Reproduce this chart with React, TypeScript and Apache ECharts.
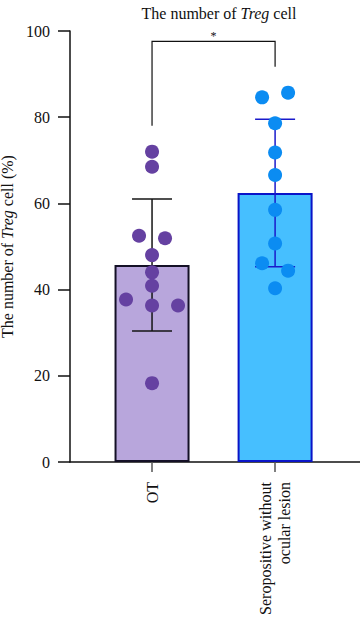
import React, { useEffect, useRef } from "react";
import * as echarts from "echarts";

// Groups shown along the x axis
const categories = ["OT", "Seropositive without\nocular lesion"];
// Group means and standard deviations (%)
const means = [45.7, 62.4];
const sds = [15.3, 17.1];
// Individual measurements per group (%)
const otValues = [72.0, 68.5, 52.5, 51.9, 48.0, 44.0, 40.9, 37.7, 36.3, 36.3, 18.3];
const seroValues = [84.6, 85.7, 78.6, 71.8, 66.6, 58.5, 50.7, 46.1, 44.4, 40.3];
// Beeswarm column of each dot (in dot widths, left negative)
const otColumns = [0, 0, -1, 1, 0, 0, 0, -2, 0, 2, 0];
const seroColumns = [-1, 1, 0, 0, 0, 0, 0, -1, 1, 0];
// Significance bracket: leg ends and top level
const bracketLegs = [78, 91.7];
const bracketTop = 97.6;
const significance = "*";
const yTicks = [0, 20, 40, 60, 80, 100];

const FONT = "'Liberation Serif', 'DejaVu Serif', serif";
const FS = 16;
const barFills = ["#b8a6dc", "#46bfff"];
const barBorders = ["#141026", "#0a14c8"];
const dotColors = ["#6541a1", "#0b8cf2"];
const errColors = ["#141414", "#1a1acb"];
const DOT_STEP = 13;

export default function App() {
  const ref = useRef<HTMLDivElement>(null);

  useEffect(() => {
    if (!ref.current) return;
    document.body.style.margin = "0";
    const chart = echarts.init(ref.current, undefined, { renderer: "svg" });

    const groups = [otValues, seroValues];
    const columns = [otColumns, seroColumns];

    const dotSeries = groups.map((vals, gi) => ({
      type: "scatter",
      z: 5,
      symbolSize: 14,
      itemStyle: { color: dotColors[gi], opacity: 1 },
      data: vals.map((v, i) => ({
        value: [gi + 1, v],
        symbolOffset: [columns[gi][i] * DOT_STEP, 0],
      })),
    }));

    const italic = { fontFamily: FONT, fontSize: FS, fontStyle: "italic", color: "#111" };

    const option: any = {
      animation: false,
      title: {
        text: "The number of {i|Treg} cell",
        left: 214,
        top: 0,
        textAlign: "center",
        textStyle: {
          fontFamily: FONT,
          fontSize: FS,
          fontWeight: "normal",
          color: "#111",
          rich: { i: italic },
        },
      },
      grid: { left: 70, right: 0, top: 31, bottom: 157, containLabel: false, outerBoundsMode: "none" },
      xAxis: {
        type: "value",
        min: 1 / 3,
        max: 2.69,
        splitLine: { show: false },
        axisLine: { show: true, lineStyle: { color: "#111", width: 1.5 } },
        axisTick: {
          show: true,
          customValues: [1, 2],
          length: 10,
          lineStyle: { color: "#555", width: 1.5 },
        },
        axisLabel: {
          customValues: [1, 2],
          formatter: (v: number) => categories[Math.round(v) - 1] ?? "",
          rotate: 90,
          margin: 20,
          fontFamily: FONT,
          fontSize: FS,
          lineHeight: 19,
          color: "#111",
        },
      },
      yAxis: {
        type: "value",
        min: 0,
        max: 100,
        interval: 20,
        splitLine: { show: false },
        axisLine: { show: true, lineStyle: { color: "#111", width: 1.5 } },
        axisTick: { show: true, length: 12, lineStyle: { color: "#111", width: 1.5 } },
        axisLabel: {
          margin: 20,
          fontFamily: FONT,
          fontSize: FS,
          color: "#111",
          formatter: (v: number) => (yTicks.includes(v) ? String(v) : ""),
        },
        name: "The number of {i|Treg} cell (%)",
        nameLocation: "middle",
        nameGap: 50,
        nameTextStyle: {
          fontFamily: FONT,
          fontSize: FS,
          color: "#111",
          rich: { i: italic },
        },
      },
      series: [
        {
          type: "bar",
          z: 2,
          barWidth: 75,
          data: means.map((m, i) => ({
            value: [i + 1, m],
            itemStyle: { color: barFills[i], borderColor: barBorders[i], borderWidth: 2 },
          })),
        },
        {
          type: "custom",
          z: 3,
          data: means.map((m, i) => [i + 1, m - sds[i], m + sds[i]]),
          renderItem: (params: any, api: any) => {
            const x = api.value(0);
            const lo = api.coord([x, api.value(1)]);
            const hi = api.coord([x, api.value(2)]);
            const color = errColors[params.dataIndex];
            const half = 20;
            const style = { stroke: color, lineWidth: 1.5 };
            return {
              type: "group",
              children: [
                { type: "line", shape: { x1: lo[0], y1: lo[1], x2: hi[0], y2: hi[1] }, style },
                { type: "line", shape: { x1: hi[0] - half, y1: hi[1], x2: hi[0] + half, y2: hi[1] }, style },
                { type: "line", shape: { x1: lo[0] - half, y1: lo[1], x2: lo[0] + half, y2: lo[1] }, style },
              ],
            };
          },
        },
        ...dotSeries,
        {
          type: "custom",
          z: 4,
          data: [[1, 2]],
          renderItem: (_params: any, api: any) => {
            const a0 = api.coord([1, bracketLegs[0]]);
            const a1 = api.coord([1, bracketTop]);
            const b1 = api.coord([2, bracketTop]);
            const b0 = api.coord([2, bracketLegs[1]]);
            return {
              type: "group",
              children: [
                {
                  type: "polyline",
                  shape: { points: [a0, a1, b1, b0] },
                  style: { stroke: "#111", lineWidth: 1.2, fill: "none" },
                },
                {
                  type: "text",
                  style: {
                    text: significance,
                    x: (a1[0] + b1[0]) / 2,
                    y: a1[1] + 1,
                    align: "center",
                    verticalAlign: "bottom",
                    fontFamily: FONT,
                    fontSize: 12,
                    fill: "#111",
                  },
                },
              ],
            };
          },
        },
      ],
    };

    chart.setOption(option);
    return () => chart.dispose();
  }, []);

  return <div ref={ref} style={{ width: 360, height: 619 }} />;
}
